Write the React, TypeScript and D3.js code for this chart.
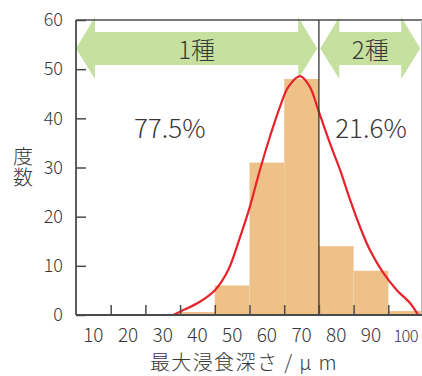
import React, { useEffect, useRef } from 'react';
import * as d3 from 'd3';

// histogram bins (left edge, count)
const binStarts = [35, 45, 55, 65, 75, 85, 95];
const binCounts = [0.6, 6, 31, 48, 14, 9, 0.8];
const binWidth = 10;

// fitted curve
const curveX = [33, 35, 40.7, 45.1, 48.9, 52.3, 55.1, 58, 60.9, 63.8, 66.2, 69.6, 72.4, 74.8, 78.2, 81.1, 84, 86.8, 89.7, 93.6, 97.4, 101.3, 103.6];
const curveY = [0, 0.67, 2.7, 5.1, 9.2, 15.9, 22, 29.5, 36.3, 42.4, 46.4, 48.6, 46.4, 41.7, 34.9, 29.5, 23.4, 18, 13.2, 8.5, 5.1, 2.4, 0];

const xLabels = [10, 20, 30, 40, 50, 60, 70, 80, 90, 100];
const xTicks = [15, 25, 35, 45, 55, 65, 75, 85, 95];
const yTicks = [0, 10, 20, 30, 40, 50, 60];

const splitAt = 75;
const groups = [
  { from: 5, to: 74.5, label: '1種', pct: '77.5%', pctX: 32 },
  { from: 75.4, to: 104.2, label: '2種', pct: '21.6%', pctX: 90 },
];

const FONT = '"Noto Sans CJK JP", "Noto Sans", sans-serif';
const TEXT = '#383838';
const AXIS = '#4a4a4a';

const App = () => {
  const svgRef = useRef<SVGSVGElement>(null);

  useEffect(() => {
    document.body.style.margin = '0';
    const svg = d3.select(svgRef.current);
    svg.selectAll('*').remove();

    const width = 422;
    const height = 376;
    const margin = { top: 20, right: 0, bottom: 61, left: 76 };

    const x = d3.scaleLinear().domain([5, 105]).range([margin.left, 423]);
    const y = d3.scaleLinear().domain([0, 60]).range([height - margin.bottom, margin.top]);

    // green arrows
    const bodyTop = 32, bodyBot = 65, headTop = 17, headBot = 79, mid = 48.5, head = 19;
    groups.forEach(g => {
      const x0 = x(g.from), x1 = x(g.to);
      const pts: [number, number][] = [
        [x0, mid], [x0 + head, headTop], [x0 + head, bodyTop], [x1 - head, bodyTop], [x1 - head, headTop],
        [x1, mid], [x1 - head, headBot], [x1 - head, bodyBot], [x0 + head, bodyBot], [x0 + head, headBot],
      ];
      svg.append('polygon')
        .attr('points', pts.map(p => p.join(',')).join(' '))
        .attr('fill', '#c6e09f');
      svg.append('text')
        .attr('x', (x0 + x1) / 2)
        .attr('y', 59)
        .attr('text-anchor', 'middle')
        .attr('font-family', FONT)
        .attr('font-weight', 300)
        .attr('font-size', 24)
        .attr('fill', TEXT)
        .text(g.label);
      svg.append('text')
        .attr('x', x(g.pctX))
        .attr('y', 138)
        .attr('text-anchor', 'middle')
        .attr('font-family', FONT)
        .attr('font-weight', 300)
        .attr('font-size', 26)
        .attr('fill', TEXT)
        .text(g.pct);
    });

    // bars
    svg.selectAll('rect.bar')
      .data(binStarts)
      .join('rect')
      .attr('class', 'bar')
      .attr('x', d => x(d))
      .attr('width', x(binWidth) - x(0))
      .attr('y', (d, i) => y(binCounts[i]))
      .attr('height', (d, i) => y(0) - y(binCounts[i]))
      .attr('fill', '#eec188');

    // fitted curve
    const line = d3.line<number>()
      .x(d => x(d))
      .y((d, i) => y(curveY[i]))
      .curve(d3.curveCatmullRom.alpha(0.5));
    svg.append('path')
      .attr('d', line(curveX))
      .attr('fill', 'none')
      .attr('stroke', '#e8222b')
      .attr('stroke-width', 2.2);

    // divider
    svg.append('line')
      .attr('x1', x(splitAt)).attr('x2', x(splitAt))
      .attr('y1', y(60)).attr('y2', y(0))
      .attr('stroke', '#333').attr('stroke-width', 1.3);

    // frame
    svg.append('line')
      .attr('x1', x(5)).attr('x2', width)
      .attr('y1', y(60)).attr('y2', y(60))
      .attr('stroke', AXIS).attr('stroke-width', 1.5);
    svg.append('line')
      .attr('x1', width - 0.5).attr('x2', width - 0.5)
      .attr('y1', y(60)).attr('y2', y(0))
      .attr('stroke', '#bbb').attr('stroke-width', 1);

    // y axis
    const yAxis = svg.append('g')
      .attr('transform', `translate(${x(5)},0)`)
      .call(d3.axisRight(y).tickValues(yTicks).tickSize(10).tickFormat(() => ''));
    yAxis.select('.domain').attr('stroke', AXIS).attr('stroke-width', 1.8).attr('d', `M0,${y(60)}V${y(0)}`);
    yAxis.selectAll('.tick line').attr('stroke', AXIS).attr('stroke-width', 1.5);

    svg.selectAll('text.ylab')
      .data(yTicks)
      .join('text')
      .attr('class', 'ylab')
      .attr('x', 63)
      .attr('y', d => y(d))
      .attr('dy', '0.35em')
      .attr('text-anchor', 'end')
      .attr('font-family', FONT)
      .attr('font-weight', 300)
      .attr('font-size', 18)
      .attr('fill', TEXT)
      .text(d => d);

    // x axis
    const xAxis = svg.append('g')
      .attr('transform', `translate(0,${y(0)})`)
      .call(d3.axisTop(x).tickValues(xTicks).tickSize(10).tickFormat(() => ''));
    xAxis.select('.domain').attr('stroke', AXIS).attr('stroke-width', 1.8).attr('d', `M${x(5)},0H${width}`);
    xAxis.selectAll('.tick line').attr('stroke', AXIS).attr('stroke-width', 1.5);

    svg.selectAll('text.xlab')
      .data(xLabels)
      .join('text')
      .attr('class', 'xlab')
      .attr('x', d => x(d))
      .attr('y', 342)
      .attr('text-anchor', 'middle')
      .attr('font-family', FONT)
      .attr('font-weight', 300)
      .attr('font-size', d => (d >= 100 ? 16.5 : 19))
      .attr('letter-spacing', d => (d >= 100 ? -0.8 : 0))
      .attr('fill', TEXT)
      .text(d => d);

    // axis titles
    svg.append('text')
      .attr('x', 244)
      .attr('y', 370)
      .attr('text-anchor', 'middle')
      .attr('font-family', FONT)
      .attr('font-weight', 300)
      .attr('font-size', 20)
      .attr('letter-spacing', 1.4)
      .attr('fill', TEXT)
      .text('最大浸食深さ / μ m');

    ['度', '数'].forEach((c, i) => {
      svg.append('text')
        .attr('x', 23)
        .attr('y', 164 + i * 20.5)
        .attr('text-anchor', 'middle')
        .attr('font-family', FONT)
        .attr('font-weight', 300)
        .attr('font-size', 20)
        .attr('fill', TEXT)
        .text(c);
    });
  }, []);

  return <svg ref={svgRef} width={422} height={376} viewBox="0 0 422 376" style={{ display: 'block' }} />;
};

export default App;
